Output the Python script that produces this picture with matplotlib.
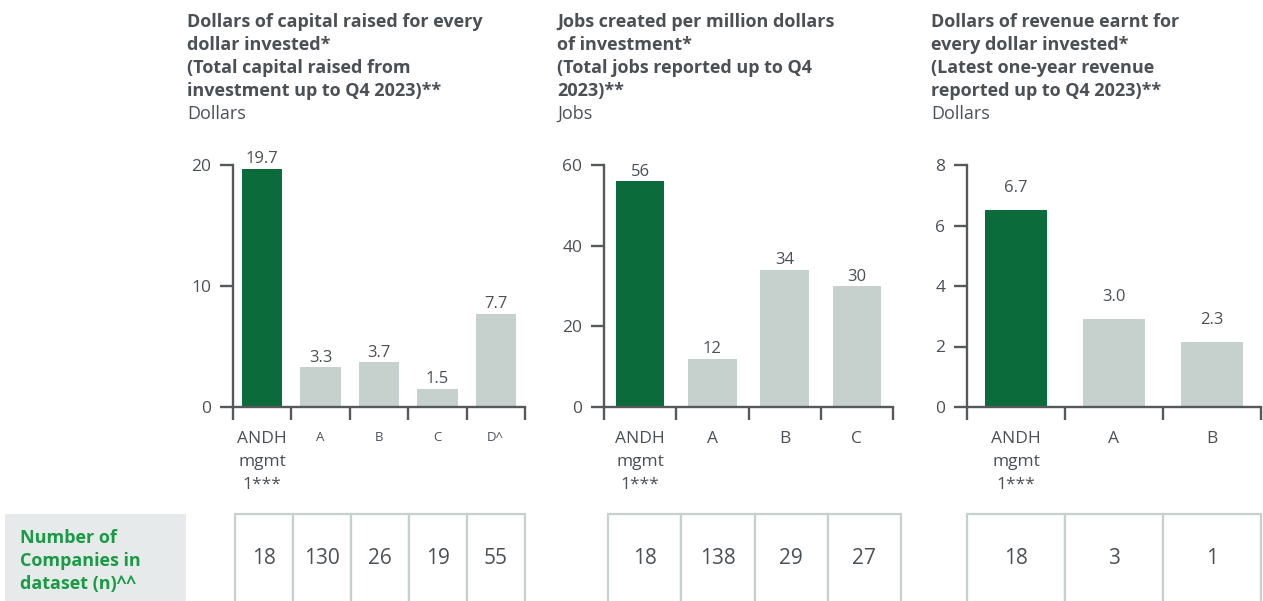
import matplotlib.pyplot as plt
from matplotlib.patches import Rectangle

# data
cats1 = ['ANDH\nmgmt\n1***', 'A', 'B', 'C', 'D^']
vals1 = [19.7, 3.3, 3.7, 1.5, 7.7]
labels1 = ['19.7', '3.3', '3.7', '1.5', '7.7']
n1 = [18, 130, 26, 19, 55]

cats2 = ['ANDH\nmgmt\n1***', 'A', 'B', 'C']
vals2 = [56, 12, 34, 30]
labels2 = ['56', '12', '34', '30']
n2 = [18, 138, 29, 27]

cats3 = ['ANDH\nmgmt\n1***', 'A', 'B']
vals3 = [6.5, 2.9, 2.15]
labels3 = ['6.7', '3.0', '2.3']
n3 = [18, 3, 1]

titles = [
    ['Dollars of capital raised for every', 'dollar invested*',
     '(Total capital raised from', 'investment up to Q4 2023)**'],
    ['Jobs created per million dollars', 'of investment*',
     '(Total jobs reported up to Q4', '2023)**'],
    ['Dollars of revenue earnt for', 'every dollar invested*',
     '(Latest one-year revenue', 'reported up to Q4 2023)**'],
]
units = ['Dollars', 'Jobs', 'Dollars']

GREEN = '#0b6b3b'
GREY = '#c6d0cd'
AXC = '#55595c'
TXT = '#4b5055'
LBL = '#1a9a45'

plt.rcParams['font.family'] = ['Open Sans', 'DejaVu Sans']

W, H = 1263, 601
fig = plt.figure(figsize=(W / 100, H / 100), dpi=100)


def px_axes(l, t, r, b):
    return fig.add_axes([l / W, 1 - b / H, (r - l) / W, (b - t) / H])


def bar_panel(box, cats, vals, labels, top, step, width, lab_off, small_cats):
    ax = px_axes(*box)
    n = len(cats)
    x = list(range(n))
    colors = [GREEN] + [GREY] * (n - 1)
    ax.bar(x, vals, width=width, color=colors)
    for xi, v, t in zip(x, vals, labels):
        ax.annotate(t, (xi, v), xytext=(0, lab_off), textcoords='offset points',
                    ha='center', va='bottom', fontsize=12, color=TXT)
    ax.set_xlim(-0.5, n - 0.5)
    ax.set_ylim(0, top)
    ax.set_yticks(range(0, top + 1, step))
    ax.set_xticks(x)
    ax.set_xticklabels(cats, linespacing=1.6)
    ax.set_xticks([i - 0.5 for i in range(n + 1)], minor=True)
    for s in ['top', 'right']:
        ax.spines[s].set_visible(False)
    for s in ['left', 'bottom']:
        ax.spines[s].set_color(AXC)
        ax.spines[s].set_linewidth(1.7)
    ax.tick_params(axis='y', length=9.5, width=1.7, color=AXC, labelsize=12.5,
                   labelcolor=TXT, pad=6)
    ax.tick_params(axis='x', which='major', length=0, labelsize=12.5,
                   labelcolor=TXT, pad=17)
    ax.tick_params(axis='x', which='minor', length=9, width=1.7, color=AXC)
    if small_cats:
        for lab in ax.get_xticklabels()[1:]:
            lab.set_fontsize(9.5)
    ax.set_facecolor('none')
    return ax


bar_panel((233, 165, 525, 407), cats1, vals1, labels1, 20, 10, 0.69, 1, True)
bar_panel((604, 165, 893, 407), cats2, vals2, labels2, 60, 20, 0.67, 1, False)
bar_panel((967, 165, 1261, 407), cats3, vals3, labels3, 8, 2, 0.63, 10, False)

# titles
title_x = [187, 557, 931]
for tx, lines, unit in zip(title_x, titles, units):
    for i, line in enumerate(lines):
        fig.text(tx / W, 1 - (27 + 23 * i) / H, line, fontsize=13,
                 fontweight='bold', color=TXT, va='baseline')
    fig.text(tx / W, 1 - (27 + 23 * 4) / H, unit, fontsize=13,
             color=TXT, va='baseline')

# number of companies table
tab = fig.add_axes([0, 0, 1, 1])
tab.set_xlim(0, W)
tab.set_ylim(H, 0)
tab.axis('off')
tab.add_patch(Rectangle((5, 514), 181, 90, facecolor='#e7eaea', edgecolor='none'))
for i, t in enumerate(['Number of', 'Companies in', 'dataset (n)^^']):
    tab.text(20, 543 + 23 * i, t, fontsize=13, fontweight='bold', color=LBL,
             va='baseline')

table_boxes = [(235, 525), (608, 901), (967, 1261)]
for (l, r), counts in zip(table_boxes, [n1, n2, n3]):
    k = len(counts)
    cw = (r - l) / k
    for j, c in enumerate(counts):
        tab.add_patch(Rectangle((l + j * cw, 514), cw, 100, facecolor='white',
                                edgecolor=GREY, linewidth=1.6))
        tab.text(l + (j + 0.5) * cw, 558, str(c), fontsize=15, color=TXT,
                 ha='center', va='center')

fig.savefig('out.png', dpi=100)
